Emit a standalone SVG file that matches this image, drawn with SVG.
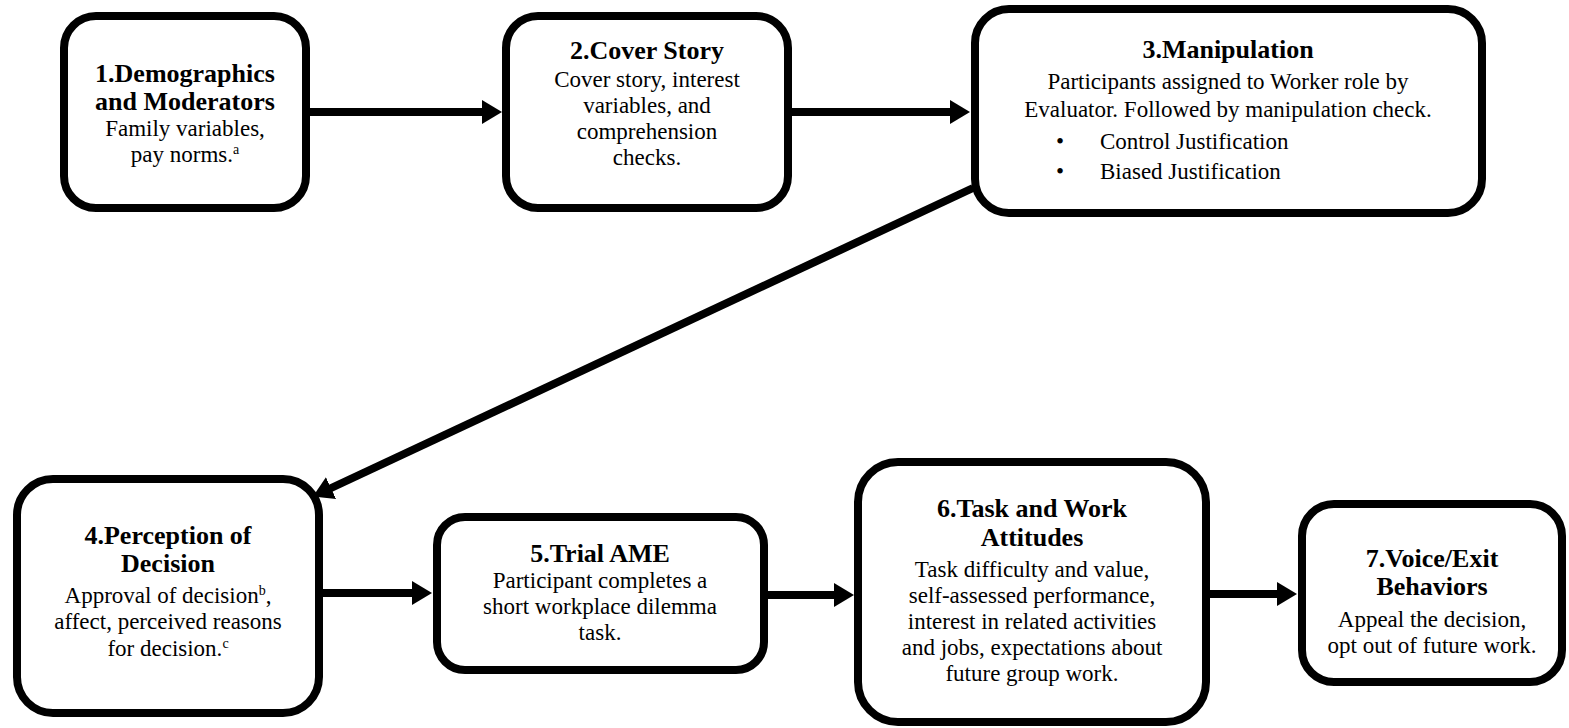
<svg xmlns="http://www.w3.org/2000/svg" width="1569" height="728" viewBox="0 0 1569 728">
<style>
.box{fill:#fff;stroke:#000;stroke-width:8}
.t{font-family:"Liberation Serif","Times New Roman",serif;font-size:26px;font-weight:bold;text-anchor:middle;fill:#000}
.b{font-family:"Liberation Serif","Times New Roman",serif;font-size:23px;text-anchor:middle;fill:#000}
.bl{font-family:"Liberation Serif","Times New Roman",serif;font-size:23px;fill:#000}
.sup{font-size:14px}
.c{stroke:#000;stroke-width:8;fill:none}
</style>
<defs>
<marker id="ah" markerUnits="userSpaceOnUse" markerWidth="22" markerHeight="24" refX="1" refY="12" orient="auto">
<path d="M0,0 L20,12 L0,24 z" fill="#000"/>
</marker>
</defs>
<rect width="1569" height="728" fill="#fff"/>
<g id="connectors">
<line class="c" x1="310" y1="112" x2="483" y2="112" marker-end="url(#ah)"/>
<line class="c" x1="792" y1="112" x2="951" y2="112" marker-end="url(#ah)"/>
<line class="c" x1="973" y1="188" x2="330.1" y2="488.5" marker-end="url(#ah)"/>
<line class="c" x1="323" y1="593" x2="413" y2="593" marker-end="url(#ah)"/>
<line class="c" x1="768" y1="595" x2="835" y2="595" marker-end="url(#ah)"/>
<line class="c" x1="1210" y1="594" x2="1278" y2="594" marker-end="url(#ah)"/>
</g>
<g id="node1">
<rect class="box" x="64" y="16" width="242" height="192" rx="32"/>
<text class="t" x="185" y="82">1.Demographics</text>
<text class="t" x="185" y="110">and Moderators</text>
<text class="b" x="185" y="136">Family variables,</text>
<text class="b" x="185" y="162">pay norms.<tspan class="sup" dy="-8">a</tspan></text>
</g>
<g id="node2">
<rect class="box" x="506" y="16" width="282" height="192" rx="32"/>
<text class="t" x="647" y="59">2.Cover Story</text>
<text class="b" x="647" y="87">Cover story, interest</text>
<text class="b" x="647" y="113">variables, and</text>
<text class="b" x="647" y="139">comprehension</text>
<text class="b" x="647" y="165">checks.</text>
</g>
<g id="node3">
<rect class="box" x="975" y="9" width="507" height="204" rx="34"/>
<text class="t" x="1228" y="58">3.Manipulation</text>
<text class="b" x="1228" y="89">Participants assigned to Worker role by</text>
<text class="b" x="1228" y="117">Evaluator. Followed by manipulation check.</text>
<text class="bl" x="1056" y="149">•</text>
<text class="bl" x="1100" y="149">Control Justification</text>
<text class="bl" x="1056" y="179">•</text>
<text class="bl" x="1100" y="179">Biased Justification</text>
</g>
<g id="node4">
<rect class="box" x="17" y="479" width="302" height="234" rx="36"/>
<text class="t" x="168" y="544">4.Perception of</text>
<text class="t" x="168" y="572">Decision</text>
<text class="b" x="168" y="603">Approval of decision<tspan class="sup" dy="-8">b</tspan><tspan dy="8">,</tspan></text>
<text class="b" x="168" y="629">affect, perceived reasons</text>
<text class="b" x="168" y="656">for decision.<tspan class="sup" dy="-8">c</tspan></text>
</g>
<g id="node5">
<rect class="box" x="437" y="517" width="327" height="153" rx="28"/>
<text class="t" x="600" y="562">5.Trial AME</text>
<text class="b" x="600" y="588">Participant completes a</text>
<text class="b" x="600" y="614">short workplace dilemma</text>
<text class="b" x="600" y="640">task.</text>
</g>
<g id="node6">
<rect class="box" x="858" y="462" width="348" height="260" rx="40"/>
<text class="t" x="1032" y="517">6.Task and Work</text>
<text class="t" x="1032" y="546">Attitudes</text>
<text class="b" x="1032" y="577">Task difficulty and value,</text>
<text class="b" x="1032" y="603">self-assessed performance,</text>
<text class="b" x="1032" y="629">interest in related activities</text>
<text class="b" x="1032" y="655">and jobs, expectations about</text>
<text class="b" x="1032" y="681">future group work.</text>
</g>
<g id="node7">
<rect class="box" x="1302" y="504" width="260" height="178" rx="32"/>
<text class="t" x="1432" y="567">7.Voice/Exit</text>
<text class="t" x="1432" y="595">Behaviors</text>
<text class="b" x="1432" y="627">Appeal the decision,</text>
<text class="b" x="1432" y="653">opt out of future work.</text>
</g>
</svg>
